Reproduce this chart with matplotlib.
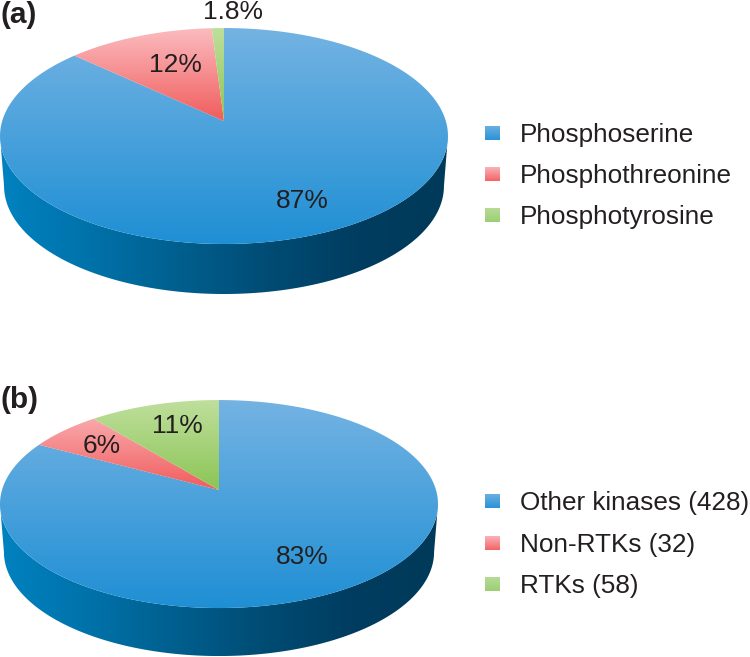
import numpy as np
import matplotlib
matplotlib.use("Agg")
import matplotlib.pyplot as plt
from matplotlib.colors import LinearSegmentedColormap as LSC
from matplotlib.patches import Polygon, Rectangle

plt.rcParams['font.family'] = ['Liberation Sans', 'DejaVu Sans']

# Data: slice shares as drawn in the picture, printed labels, legend text
shares_a = [86.8, 12.2, 1.0]
percent_labels_a = ["87%", "12%", "1.8%"]
legend_a = ["Phosphoserine", "Phosphothreonine", "Phosphotyrosine"]

shares_b = [82.8, 6.2, 11]
percent_labels_b = ["83%", "6%", "11%"]
legend_b = ["Other kinases (428)", "Non-RTKs (32)", "RTKs (58)"]

# Style
TEXT = "#231f20"
GRADS = [("#74b3e3", "#1f8fd4"), ("#fbbcc0", "#f15c5c"), ("#bfdf9c", "#8bc556")]
LEG_GRADS = [("#6fb0e2", "#2a93d6"), ("#fbb8bc", "#f26466"), ("#b9dc98", "#9ccf74")]
SIDE = LSC.from_list("side", ["#0082c0", "#0072aa", "#005f8e", "#004c74", "#003d60", "#003a5a"])

fig = plt.figure(figsize=(7.5, 6.57), dpi=100)
ax = fig.add_axes([0, 0, 1, 1])


def gradient(artist_poly, x0, x1, y0, y1, c0, c1, cmap=None, horizontal=False):
    cm = cmap or LSC.from_list("g", [c0, c1])
    arr = np.linspace(0, 1, 256)
    arr = arr[None, :] if horizontal else arr[:, None]
    im = ax.imshow(arr, extent=(x0, x1, y1, y0), origin="upper", cmap=cm, aspect="auto",
                   vmin=0, vmax=1, zorder=artist_poly.get_zorder())
    im.set_clip_path(artist_poly)


def draw_pie(shares, labels, legend, cx, apex_y, a, b, k, depth, shrink, label_pos, leg_ys, tag, tag_y):
    def project(theta_deg):
        t = np.radians(theta_deg)
        x, y = np.cos(t), np.sin(t)
        w = 1 + k * y
        return cx + a * x / w, apex_y - b * y / w

    wedges, _ = ax.pie(shares, startangle=90, counterclock=False)
    thetas = [(w.theta1, w.theta2) for w in wedges]
    for w in wedges:
        w.remove()

    # projected outline extents
    full_x, full_y = project(np.linspace(0, 360, 721))
    top, bot = full_y.min(), full_y.max()
    left, right = full_x.min(), full_x.max()

    # side wall
    tw = np.degrees(np.arcsin(-k))
    arc = np.linspace(180 - tw, 360 + tw, 400)
    ux, uy = project(arc)
    lx, ly = cx + (ux - cx) * shrink, uy + depth
    side = Polygon(np.r_[np.c_[ux, uy], np.c_[lx, ly][::-1]], closed=True, fc="none", ec="none", zorder=2)
    ax.add_patch(side)
    gradient(side, left, right, top, bot + depth, None, None, cmap=SIDE, horizontal=True)

    # top face
    for (t1, t2), (c0, c1), i in zip(thetas, GRADS, range(3)):
        ts = np.linspace(t1, t2, 300)
        px, py = project(ts)
        poly = Polygon(np.r_[[[cx, apex_y]], np.c_[px, py]], closed=True, fc="none", ec="none", zorder=3)
        ax.add_patch(poly)
        y1 = bot if i == 0 else apex_y
        gradient(poly, left, right, top, y1, c0, c1)

    for s, (x, y) in zip(labels, label_pos):
        ax.text(x, y, s, ha="center", va="baseline", fontsize=19, color=TEXT, zorder=5)

    for s, y, (c0, c1) in zip(legend, leg_ys, LEG_GRADS):
        r = Rectangle((485, y - 16.5), 15, 15, fc="none", ec="none", zorder=3)
        ax.add_patch(r)
        gradient(r, 485, 500, y - 16.5, y - 1.5, c0, c1)
        ax.text(520, y, s, ha="left", va="baseline", fontsize=18.8, color=TEXT, zorder=5)

    ax.text(1, tag_y, tag, ha="left", va="baseline", fontsize=21.5, fontweight="bold", color=TEXT, zorder=5)


draw_pie(shares_a, percent_labels_a, legend_a, 224, 121, 221.8, 105.9, 0.139, 50, 0.982,
         [(302, 208), (175, 71.5), (233, 19)], [142, 183, 224], "(a)", 23)
draw_pie(shares_b, percent_labels_b, legend_b, 219, 490, 217, 102.1, 0.135, 48, 0.982,
         [(302, 564), (102, 453), (177, 433)], [510, 552, 593], "(b)", 408)

ax.set_aspect("auto")
ax.set_xlim(0, 750)
ax.set_ylim(657, 0)
ax.axis("off")
fig.savefig("out.png", dpi=100, facecolor="white")
